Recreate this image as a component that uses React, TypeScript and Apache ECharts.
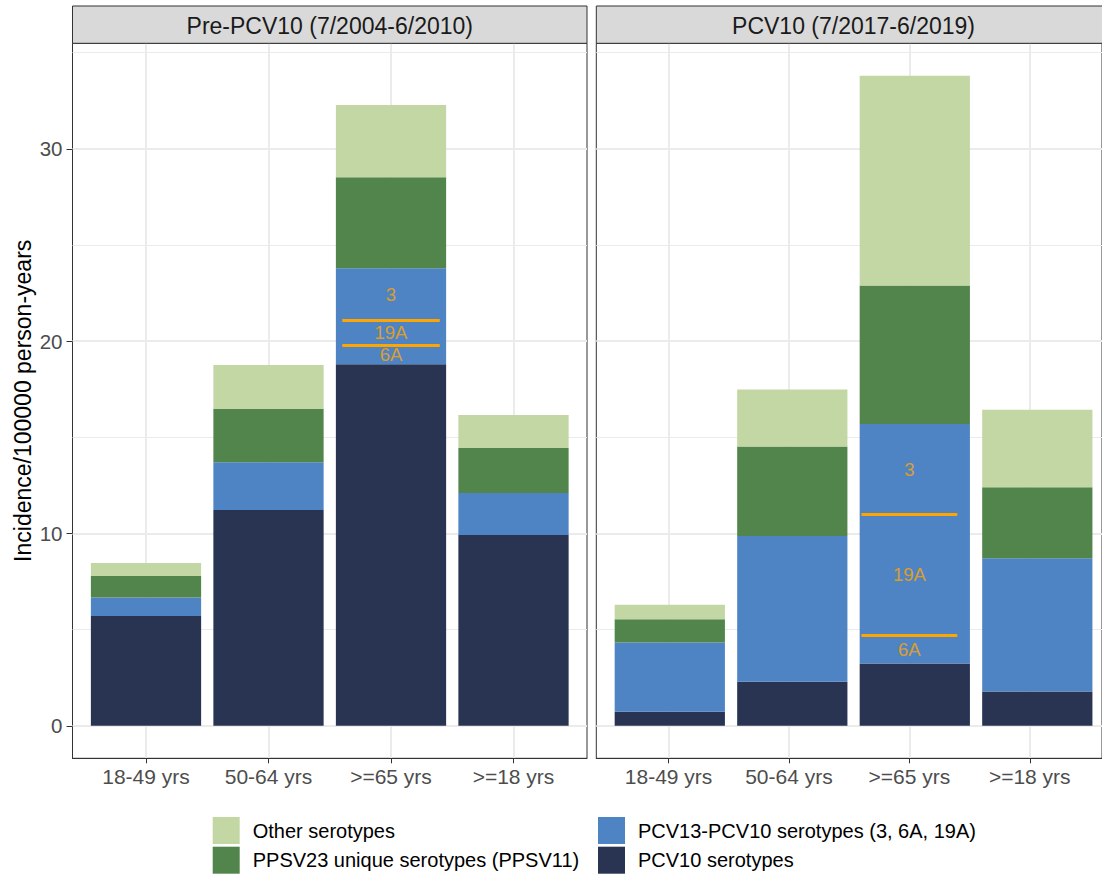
import React, { useEffect, useRef } from "react";
import * as echarts from "echarts";

// ---------- data ----------
const ageGroups = ["18-49 yrs", "50-64 yrs", ">=65 yrs", ">=18 yrs"];
const panelTitles = ["Pre-PCV10 (7/2004-6/2010)", "PCV10 (7/2017-6/2019)"];
const seriesNames = [
  "PCV10 serotypes",
  "PCV13-PCV10 serotypes (3, 6A, 19A)",
  "PPSV23 unique serotypes (PPSV11)",
  "Other serotypes",
];

// Pre-PCV10 period (incidence / 100000 person-years)
const prePCV10 = [5.71, 11.22, 18.8, 9.92];
const prePCV13only = [0.96, 2.49, 4.99, 2.18];
const prePPSV11 = [1.12, 2.76, 4.73, 2.34];
const preOther = [0.68, 2.29, 3.76, 1.72];

// PCV10 period
const postPCV10 = [0.73, 2.29, 3.24, 1.79];
const postPCV13only = [3.6, 7.58, 12.45, 6.92];
const postPPSV11 = [1.21, 4.66, 7.21, 3.7];
const postOther = [0.76, 2.96, 10.9, 4.02];

// PCV13-PCV10 split of the >=65 yrs bar (bottom to top)
const serotypeNames = ["6A", "19A", "3"];
const preSerotypes65 = [1.0, 1.3, 2.69];
const postSerotypes65 = [1.47, 6.29, 4.69];
const splitGroupIndex = 2; // ">=65 yrs"

const yMajorTicks = [0, 10, 20, 30];
const yMinorTicks = [5, 15, 25, 35];

// ---------- styling ----------
const colors = ["#293352", "#4E84C4", "#52854C", "#C3D7A4"];
const FONT = "'Liberation Sans', Arial, Helvetica, sans-serif";
const panelLeft = [72.5, 596.3];
const panelTop = 43.3;
const panelW = 514.5;
const panelH = 715;
const stripTop = 6;

export default function App() {
  const ref = useRef<HTMLDivElement>(null);

  useEffect(() => {
    document.body.style.margin = "0";
    const chart = echarts.init(ref.current!, undefined, { renderer: "svg" });

    const panels = [
      { stacks: [prePCV10, prePCV13only, prePPSV11, preOther], sero: preSerotypes65 },
      { stacks: [postPCV10, postPCV13only, postPPSV11, postOther], sero: postSerotypes65 },
    ];

    const totals = panels.flatMap((p) =>
      ageGroups.map((_, i) => p.stacks.reduce((s, arr) => s + arr[i], 0))
    );
    const dataMax = Math.max(...totals);
    const yMin = -0.05 * dataMax;
    const yMax = 1.05 * dataMax;
    const expandUnits = 0.6;
    const xMin = 1 - expandUnits;
    const xMax = ageGroups.length + expandUnits;
    const unitPx = panelW / (xMax - xMin);
    const catPos = ageGroups.map((_, i) => i + 1);

    const grids: any[] = [];
    const xAxes: any[] = [];
    const yAxes: any[] = [];
    const series: any[] = [];
    const graphics: any[] = [];

    panels.forEach((p, pi) => {
      const frameIdx = pi * 2;
      const barIdx = pi * 2 + 1;

      // frame grid (full panel, continuous x for gridlines / ticks)
      grids.push({
        left: panelLeft[pi],
        top: panelTop,
        width: panelW,
        height: panelH,
        show: true,
        borderColor: "#333333",
        borderWidth: 1,
        backgroundColor: "#ffffff",
      });
      // bar grid (inner category bands)
      grids.push({
        left: panelLeft[pi] + (expandUnits - 0.5) * unitPx,
        top: panelTop,
        width: ageGroups.length * unitPx,
        height: panelH,
        show: false,
      });

      xAxes.push({
        type: "value",
        gridIndex: frameIdx,
        min: xMin,
        max: xMax,
        splitLine: { show: false },
        axisLine: { show: true, onZero: false, lineStyle: { color: "#333333", width: 1 } },
        axisTick: {
          show: true,
          customValues: catPos,
          length: 5,
          lineStyle: { color: "#333333", width: 1 },
        },
        axisLabel: {
          show: true,
          customValues: catPos,
          formatter: (v: number) => ageGroups[Math.round(v) - 1] ?? "",
          fontSize: 21,
          fontFamily: FONT,
          color: "#4D4D4D",
          margin: 8,
        },
      });
      xAxes.push({
        type: "category",
        gridIndex: barIdx,
        data: ageGroups,
        boundaryGap: true,
        show: false,
        axisLine: { show: false },
        axisTick: { show: false },
        axisLabel: { show: false },
        splitLine: { show: false },
      });

      yAxes.push({
        type: "value",
        gridIndex: frameIdx,
        min: yMin,
        max: yMax,
        splitLine: { show: false },
        axisLine: { show: false, onZero: false },
        axisTick: {
          show: pi === 0,
          customValues: yMajorTicks,
          length: 6,
          lineStyle: { color: "#333333", width: 1 },
        },
        axisLabel: {
          show: pi === 0,
          customValues: yMajorTicks,
          fontSize: 20.5,
          fontFamily: FONT,
          color: "#4D4D4D",
          margin: 10,
        },
        name: pi === 0 ? "Incidence/100000 person-years" : "",
        nameLocation: "middle",
        nameGap: 38,
        nameTextStyle: { fontSize: 23, fontFamily: FONT, color: "#000000" },
      });
      yAxes.push({
        type: "value",
        gridIndex: barIdx,
        min: yMin,
        max: yMax,
        show: false,
        splitLine: { show: false },
        axisLine: { show: false },
        axisTick: { show: false },
        axisLabel: { show: false },
      });

      // gridlines (behind bars)
      series.push({
        type: "line",
        name: "grid-" + pi,
        xAxisIndex: frameIdx,
        yAxisIndex: frameIdx,
        data: [],
        silent: true,
        markLine: {
          z: 0,
          silent: true,
          symbol: ["none", "none"],
          label: { show: false },
          emphasis: { disabled: true },
          data: [
            ...yMinorTicks.map((v) => ({ yAxis: v, lineStyle: { color: "#EBEBEB", width: 1, type: "solid" } })),
            ...yMajorTicks.map((v) => ({ yAxis: v, lineStyle: { color: "#EBEBEB", width: 2, type: "solid" } })),
            ...catPos.map((v) => ({ xAxis: v, lineStyle: { color: "#EBEBEB", width: 2, type: "solid" } })),
          ],
        },
      });

      // stacked bars
      p.stacks.forEach((arr, si) => {
        series.push({
          type: "bar",
          name: seriesNames[si],
          xAxisIndex: barIdx,
          yAxisIndex: barIdx,
          stack: "panel" + pi,
          barWidth: "90%",
          itemStyle: { color: colors[si] },
          emphasis: { disabled: true },
          data: arr,
          z: 2,
        });
      });

      // serotype split lines + labels in >=65 bar
      const base = p.stacks[0][splitGroupIndex];
      const bounds: number[] = [];
      const mids: number[] = [];
      let acc = base;
      p.sero.forEach((v) => {
        mids.push(acc + v / 2);
        acc += v;
        bounds.push(acc);
      });
      const cx = catPos[splitGroupIndex];
      series.push({
        type: "scatter",
        name: "sero-" + pi,
        xAxisIndex: frameIdx,
        yAxisIndex: frameIdx,
        symbolSize: 1,
        itemStyle: { color: "rgba(0,0,0,0)" },
        z: 6,
        silent: true,
        label: {
          show: true,
          position: "inside",
          formatter: "{b}",
          fontSize: 18.5,
          fontFamily: FONT,
          color: "#FFA500",
        },
        data: mids.map((m, k) => ({ name: serotypeNames[k], value: [cx, m] })),
        markLine: {
          z: 6,
          silent: true,
          symbol: ["none", "none"],
          label: { show: false },
          emphasis: { disabled: true },
          lineStyle: { color: "#FFA500", width: 3, type: "solid" },
          data: bounds.slice(0, bounds.length - 1).map((b) => [
            { coord: [cx - 0.398, b] },
            { coord: [cx + 0.398, b] },
          ]),
        },
      });

      // facet strip
      graphics.push({
        type: "rect",
        shape: { x: panelLeft[pi], y: stripTop, width: panelW, height: panelTop - stripTop },
        style: { fill: "#D9D9D9", stroke: "#333333", lineWidth: 1 },
        z: 10,
      });
      graphics.push({
        type: "text",
        x: panelLeft[pi] + panelW / 2,
        y: (stripTop + panelTop) / 2 + 1,
        style: {
          text: panelTitles[pi],
          fontSize: 23,
          fontFamily: FONT,
          fill: "#1A1A1A",
          align: "center",
          verticalAlign: "middle",
        },
        z: 11,
      });
    });

    const legendCommon = {
      orient: "vertical",
      top: 817,
      padding: 0,
      itemWidth: 27,
      itemHeight: 27,
      itemGap: 2.7,
      icon: "rect",
      selectedMode: false,
      textStyle: { fontSize: 20, fontFamily: FONT, color: "#000000", padding: [0, 0, 0, 8] },
    };

    chart.setOption({
      animation: false,
      backgroundColor: "#ffffff",
      grid: grids,
      xAxis: xAxes,
      yAxis: yAxes,
      legend: [
        { ...legendCommon, left: 212.7, data: [seriesNames[3], seriesNames[2]] },
        { ...legendCommon, left: 598, data: [seriesNames[1], seriesNames[0]] },
      ],
      graphic: graphics,
      series,
    });

    return () => chart.dispose();
  }, []);

  return <div ref={ref} style={{ width: 1102, height: 877 }} />;
}
